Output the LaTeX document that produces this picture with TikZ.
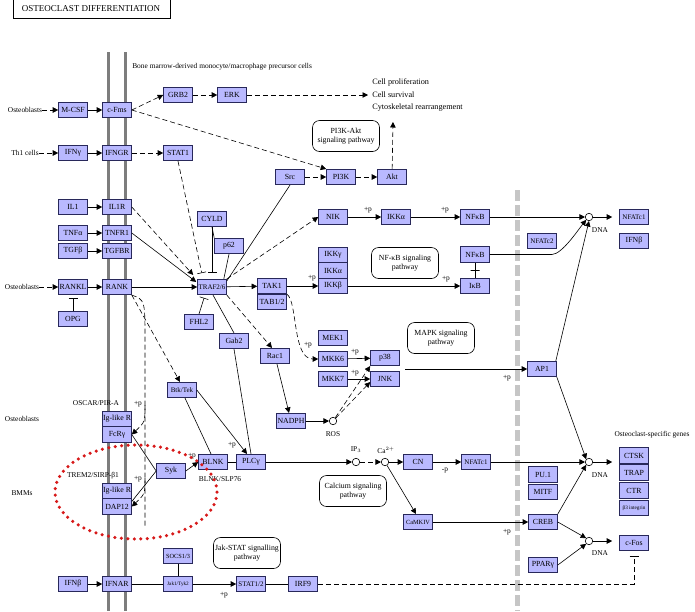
\documentclass[tikz,border=0pt]{standalone}
\usepackage{fontspec}
\setmainfont{Liberation Serif}
\usetikzlibrary{arrows.meta}
\definecolor{keggblue}{RGB}{185,185,255}
\definecolor{keggline}{RGB}{40,40,90}
\definecolor{membrane}{RGB}{125,125,125}
\definecolor{dotred}{RGB}{215,25,25}
\tikzset{
  gene/.style={draw=keggline, fill=keggblue, line width=0.6pt, minimum width=29pt, minimum height=15.5pt, inner sep=0pt, font=\fontsize{7.8}{8.5}\selectfont},
  widetext/.style={font=\fontsize{7}{8}\selectfont},
  tinytext/.style={font=\fontsize{5.2}{6}\selectfont},
  smalltext/.style={font=\fontsize{6.3}{7}\selectfont},
  pathbox/.style={draw, line width=0.6pt, rounded corners=7pt, minimum width=67pt, minimum height=31pt, inner sep=1pt, align=center, font=\fontsize{7.8}{9}\selectfont},
  lbl/.style={inner sep=0pt, font=\fontsize{7.4}{8.5}\selectfont},
  dna/.style={circle, draw, fill=white, inner sep=0pt, minimum size=7.5pt},
  act/.style={-{Triangle[length=5.5pt,width=5.5pt]}},
  dact/.style={act, dash pattern=on 5pt off 3pt},
  inh/.style={-{Bar[width=9pt]}},
  dinh/.style={inh, dash pattern=on 5pt off 3pt},
  barnode/.style={draw, minimum width=9pt, minimum height=0pt, inner sep=0pt},
}
\begin{document}
\begin{tikzpicture}[x=1pt, y=-1pt, line width=0.6pt]
    \useasboundingbox (0,0) rectangle (695,611);
    \fill[white] (0,0) rectangle (695,611);
    \draw[line width=0.8pt] (13,0) -- (13,18) -- (170,18) -- (170,0);
    \node[lbl, font=\fontsize{9}{10}\selectfont] (title) at (91,9) {OSTEOCLAST DIFFERENTIATION};
    \draw[membrane, line width=3pt] (108,52) -- (108,611);
    \draw[membrane, line width=3pt] (125,52) -- (125,611);
    \draw[gray!45, line width=5pt, dash pattern=on 11pt off 4pt] (517,190) -- (517,611);
    \node[lbl, anchor=west] (bmtext) at (132,67) {Bone marrow-derived monocyte/macrophage precursor cells};

    \node[lbl] (ob1) at (25,110) {Osteoblasts};
    \node[gene] (mcsf) at (73,110) {M-CSF};
    \node[gene] (cfms) at (117,110) {c-Fms};
    \node[gene] (grb2) at (178,95) {GRB2};
    \node[gene] (erk) at (232,95) {ERK};
    \node[lbl, anchor=west, align=left, font=\fontsize{8.2}{12.5}\selectfont] (cellfate) at (372,95) {Cell proliferation\\Cell survival\\Cytoskeletal rearrangement};
    \coordinate (cfbot) at (393,122);
    \node[pathbox] (pi3kpath) at (346,136) {PI3K-Akt\\signaling pathway};
    \node[lbl] (th1) at (25,153) {Th1 cells};
    \node[gene] (ifng) at (73,153) {IFNγ};
    \node[gene] (ifngr) at (117,153) {IFNGR};
    \node[gene] (stat1) at (178,153) {STAT1};
    \node[gene] (src) at (290,177) {Src};
    \node[gene] (pi3k) at (341,177) {PI3K};
    \node[gene] (akt) at (392,177) {Akt};

    \node[gene] (il1) at (73,207) {IL1};
    \node[gene] (il1r) at (117,207) {IL1R};
    \node[gene] (tnfa) at (73,233) {TNFα};
    \node[gene] (tnfr1) at (117,233) {TNFR1};
    \node[gene] (tgfb) at (73,251) {TGFβ};
    \node[gene] (tgfbr) at (117,251) {TGFBR};
    \node[lbl] (ob2) at (22,287) {Osteoblasts};
    \node[gene] (rankl) at (73,287) {RANKL};
    \node[gene] (rank) at (117,287) {RANK};
    \node[gene] (opg) at (73,319) {OPG};
    \node[gene] (cyld) at (212,219) {CYLD};
    \node[gene] (p62) at (229,246) {p62};
    \node[gene, widetext] (traf) at (212,287) {TRAF2/6};
    \node[gene] (fhl2) at (199,322) {FHL2};

    \node[gene] (nik) at (333,217) {NIK};
    \node[gene] (ikka1) at (396,217) {IKKα};
    \node[gene] (nfkb1) at (475,217) {NFκB};
    \node[gene] (ikkg) at (333,255) {IKKγ};
    \node[gene] (ikka2) at (333,270.5) {IKKα};
    \node[gene] (ikkb) at (333,286) {IKKβ};
    \node[pathbox] (nfkbpath) at (405,263) {NF-κB signaling\\pathway};
    \node[gene] (nfkb2) at (475,254.5) {NFκB};
    \node[gene] (ikb) at (475,286) {IκB};
    \node[gene] (tak1) at (272,286) {TAK1};
    \node[gene] (tab) at (272,302) {TAB1/2};

    \node[pathbox] (mapkpath) at (441,338) {MAPK signaling\\pathway};
    \node[gene] (mek1) at (333,338) {MEK1};
    \node[gene] (mkk6) at (333,359) {MKK6};
    \node[gene] (mkk7) at (333,379) {MKK7};
    \node[gene] (p38) at (385,358) {p38};
    \node[gene] (jnk) at (385,379) {JNK};
    \coordinate (mapkout) at (405,369);
    \node[gene] (gab2) at (234,341) {Gab2};
    \node[gene] (rac1) at (275,356) {Rac1};
    \node[gene] (nadph) at (291,421) {NADPH};
    \node[dna] (ros) at (333,421) {};
    \node[lbl] (roslbl) at (333,434) {ROS};
    \node[gene, widetext] (btk) at (182,390) {Btk/Tek};

    \node[lbl] (ob3) at (22,419) {Osteoblasts};
    \node[lbl] (oscar) at (96,403) {OSCAR/PIR-A};
    \node[gene] (iglr1) at (117,419) {Ig-like R};
    \node[gene] (fcrg) at (117,434.5) {FcRγ};
    \node[lbl] (bmms) at (22,493) {BMMs};
    \node[lbl] (trem) at (93,476) {TREM2/SIRP-β1};
    \node[gene] (iglr2) at (117,491) {Ig-like R};
    \node[gene] (dap12) at (117,506.5) {DAP12};
    \coordinate (rdown) at (145,528);
    \coordinate (rfc) at (145,405);
    \coordinate (rdap) at (145,478);
    \node[gene] (syk) at (171,471) {Syk};
    \node[gene] (blnk) at (213,462) {BLNK};
    \node[lbl] (blnklbl) at (220,479) {BLNK/SLP76};
    \node[gene] (plcg) at (251,462) {PLCγ};
    \node[dna] (ip3) at (356,462) {};
    \node[lbl] (ip3lbl) at (356,450) {IP$_3$};
    \node[dna] (ca) at (385,462) {};
    \node[lbl] (calbl) at (386,450) {Ca$^{2+}$};
    \node[gene] (cn) at (418,462) {CN};
    \node[gene, widetext] (nfatc1b) at (476,462) {NFATc1};
    \node[pathbox] (calcpath) at (353,491) {Calcium signaling\\pathway};
    \node[gene, smalltext] (camkiv) at (418,522) {CaMKIV};

    \node[gene] (ap1) at (542,369) {AP1};
    \node[gene] (pu1) at (543,474.5) {PU.1};
    \node[gene] (mitf) at (543,492) {MITF};
    \node[gene] (creb) at (543,522) {CREB};
    \node[gene] (ppar) at (543,565) {PPARγ};
    \node[gene, widetext] (nfatc2) at (542,241) {NFATc2};
    \node[dna] (dna1) at (589,217) {};
    \node[lbl] (dna1lbl) at (600,230) {DNA};
    \node[gene, widetext] (nfatc1) at (634,217) {NFATc1};
    \node[gene] (ifnb1) at (634,241) {IFNβ};
    \node[dna] (dna2) at (589,462) {};
    \node[lbl] (dna2lbl) at (600,475) {DNA};
    \node[lbl] (geneslbl) at (652,435) {Osteoclast-specific genes};
    \node[gene] (ctsk) at (634,455.5) {CTSK};
    \node[gene] (trap) at (634,472.5) {TRAP};
    \node[gene] (ctr) at (634,490.5) {CTR};
    \node[gene, tinytext] (b3int) at (634,508) {β3 integrin};
    \node[dna] (dna3) at (589,541) {};
    \node[lbl] (dna3lbl) at (600,553) {DNA};
    \node[gene] (cfos) at (634,543) {c-Fos};

    \node[gene] (ifnb2) at (73,584) {IFNβ};
    \node[gene] (ifnar) at (117,584) {IFNAR};
    \node[gene, tinytext] (jak) at (178,584) {Jak1/Tyk2};
    \node[gene, smalltext] (socs) at (178,556) {SOCS1/3};
    \node[gene, widetext] (stat12) at (251,584) {STAT1/2};
    \node[gene] (irf9) at (303,584) {IRF9};
    \node[pathbox] (jakpath) at (247,553) {Jak-STAT signalling\\pathway};

    \draw[dact] (ob1) -- (mcsf);
    \draw[act] (mcsf) -- (cfms);
    \draw[dact] (cfms.east) -- (grb2.west);
    \draw[dact] (grb2) -- (erk);
    \draw[dact, shorten >=4pt] (erk) -- (cellfate.west);
    \draw[dact] (cfms.east) -- (pi3k.north west);
    \draw[dact] (src) -- (pi3k);
    \draw[dact] (pi3k) -- (akt);
    \draw[dact] (akt) -- (cfbot);
    \draw[dact] (th1) -- (ifng);
    \draw[act] (ifng) -- (ifngr);
    \draw[dact] (ifngr) -- (stat1);
    \draw[dinh, shorten >=6pt] (stat1.south) -- ([xshift=-9pt]traf.north);
    \draw[act] (il1) -- (il1r);
    \draw[act] (tnfa) -- (tnfr1);
    \draw[act] (tgfb) -- (tgfbr);
    \draw[dact] (il1r.east) -- ([shift={(-4pt,4pt)}]traf.north west);
    \draw[act] (tnfr1.east) -- ([shift={(-1pt,-3pt)}]traf.north west);
    \draw[dact] (ob2) -- (rankl);
    \draw[act] (rankl) -- (rank);
    \draw[inh, shorten >=3pt] (opg.north) -- (rankl.south);
    \draw[act] (rank) -- (traf);
    \draw[inh, shorten >=6pt] (cyld.south) -- (cyld.south |- traf.north);
    \draw (cyld.south) -- (p62.north west);
    \draw (p62.south) -- ([xshift=-3pt]traf.north east);
    \draw[inh, shorten >=3pt] (fhl2.north) -- ([xshift=-7pt]traf.south);
    \draw ([yshift=-2pt]traf.north east) -- (src.south);
    \draw[dact] (traf.north east) -- (nik.west);
    \draw[act] (traf) -- (tak1);
    \draw[dact] (traf.south east) -- ([xshift=-3pt]rac1.north);
    \draw ([xshift=1pt]traf.south) -- (gab2.north);
    \draw[dact] (rank.south east) -- ([xshift=-2pt]btk.north);
    \draw[dash pattern=on 5pt off 3pt] (rank.south east) .. controls (145,300) .. (145,340) -- (rdown);
    \draw[dact] (rfc) .. controls (145,422) .. (fcrg.east);
    \draw[dact] (rdap) .. controls (145,494) .. (dap12.east);
    \node[lbl] at (138,404) {+p};
    \node[lbl] at (138,479) {+p};

    \draw[act] (nik) -- (ikka1);
    \node[lbl] at (368,210) {+p};
    \draw[act] (ikka1) -- (nfkb1);
    \node[lbl] at (445,210) {+p};
    \draw[act] (tak1) -- (ikkb);
    \node[lbl] at (312,278) {+p};
    \draw[act] (ikkb) -- (ikb);
    \node[lbl] at (446,279) {+p};
    \draw (nfkb2) -- node[barnode] {} (ikb);
    \draw[act] (nfkb1) -- (dna1);
    \draw[act, shorten >=7pt] (dna1) -- (nfatc1.west);
    \draw[act] (nfkb2.east) -- ++(62,0) .. controls +(10,0) and +(-8,10) .. (dna1.south west);
    \draw[act] ([xshift=-1pt]ap1.north east) -- (dna1.south);

    \draw[dact] (tak1.south east) .. controls (298,302) and (292,359) .. (mkk6.west);
    \node[lbl] at (308,345) {+p};
    \draw[act] (mkk6) -- (p38);
    \node[lbl] at (355,352) {+p};
    \draw[act] (mkk7) -- (jnk);
    \node[lbl] at (355,373) {+p};
    \draw[act] (rac1) -- (nadph);
    \draw[act] (nadph) -- (ros);
    \draw[dact] (ros) -- (p38.south west);
    \draw[dact] (ros) -- ([yshift=-3pt]jnk.west);
    \draw[act] (mapkout) -- (ap1);
    \node[lbl] at (507,378) {+p};
    \draw[act] (ap1.south east) -- (dna2.north west);

    \draw (fcrg.east) -- (syk.west);
    \draw ([yshift=-3pt]dap12.north east) -- (syk.west);
    \draw[act] (syk.east) -- (blnk.west);
    \node[lbl] at (192,456) {+p};
    \draw ([xshift=3pt]btk.south) -- ([xshift=-2pt]blnk.north);
    \draw[act] (btk.east) -- ([xshift=-4pt]plcg.north);
    \node[lbl] at (232,445) {+p};
    \draw (gab2.south) -- (plcg.north);
    \draw (blnk) -- (plcg);
    \draw[act] (plcg) -- (ip3);
    \draw[dact] (ip3) -- (ca);
    \draw[act] (ca) -- (cn);
    \draw[act] (ca) -- ([xshift=-2pt]camkiv.north);
    \draw[act] (cn) -- (nfatc1b);
    \node[lbl] at (445,471) {-p};
    \draw[act] (nfatc1b) -- (dna2);
    \draw[act, shorten >=7pt] (dna2) -- (ctsk.west |- dna2);
    \draw[act] (camkiv) -- (creb);
    \node[lbl] at (507,532) {+p};
    \draw[act] (creb.north east) -- (dna2.south west);
    \draw[act] (creb.east) -- (dna3.north west);
    \draw[act] (ppar.east) -- (dna3.south west);
    \draw[act, shorten >=7pt] (dna3) -- (cfos.west |- dna3);

    \draw[act] (ifnb2) -- (ifnar);
    \draw (ifnar) -- (jak);
    \draw (socs) -- (jak);
    \draw[act] (jak) -- (stat12);
    \node[lbl] at (224,595) {+p};
    \draw (stat12) -- (irf9);
    \draw[dinh, shorten >=5pt] (irf9.east) -| (cfos.south);

    \draw[dotred, line width=3.5pt, line cap=round, dash pattern=on 0pt off 6.5pt] (136,492) ellipse [x radius=81, y radius=47];
\end{tikzpicture}
\end{document}
